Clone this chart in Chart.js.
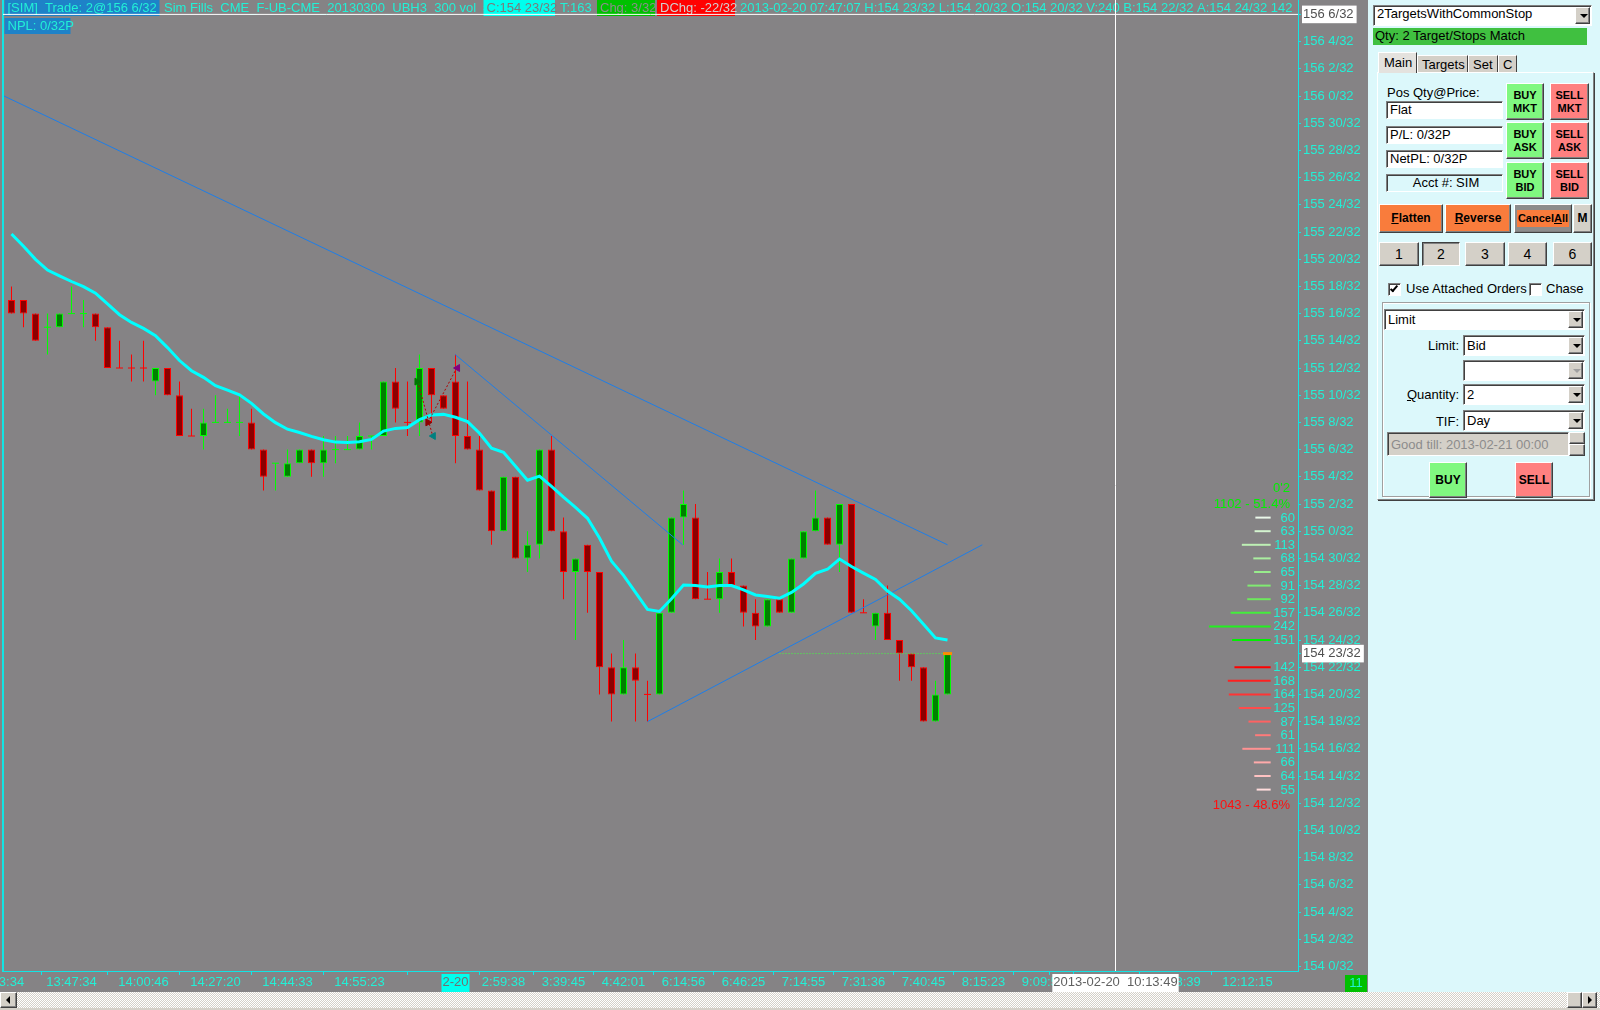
<!DOCTYPE html>
<html><head><meta charset="utf-8">
<script src="https://cdn.jsdelivr.net/npm/chart.js@4.4.1/dist/chart.umd.min.js"></script>
<style>
html,body{margin:0;padding:0;width:1600px;height:1010px;overflow:hidden;background:#dcf8fb;font-family:'Liberation Sans',Arial,sans-serif;font-size:13px;color:#000;}
#chartBox{position:absolute;left:0;top:0;width:1368px;height:992px;background:#858385;}
.a{position:absolute;box-sizing:border-box;white-space:nowrap;}
.sunken{background:#fff;border-top:1px solid #808080;border-left:1px solid #808080;border-bottom:1px solid #fff;border-right:1px solid #fff;box-shadow:inset 1px 1px 0 #404040;}
.raised{background:#d4d0c8;border-top:1px solid #fff;border-left:1px solid #fff;border-right:1px solid #404040;border-bottom:1px solid #404040;box-shadow:inset -1px -1px 0 #808080;}
.pressed{background:#d4d0c8;border-top:1px solid #404040;border-left:1px solid #404040;border-right:1px solid #fff;border-bottom:1px solid #fff;box-shadow:inset 1px 1px 0 #808080;}
.txt{padding-left:3px;line-height:15px;}
.btn{display:flex;align-items:center;justify-content:center;text-align:center;font-weight:bold;font-size:11px;line-height:13px;}
.buy{background:#80f880;}
.sell{background:#ff8080;}
.orange{background:#f97c3c;}
.arrow{position:absolute;right:1px;top:1px;bottom:1px;width:15px;}
.arrow::after{content:'';position:absolute;left:4px;top:50%;margin-top:-2px;border-left:4px solid transparent;border-right:4px solid transparent;border-top:4px solid #000;}
.arrow.dis::after{border-top-color:#a0a0a0;}
.lbl{text-align:right;}
.chk{width:13px;height:13px;}
</style></head><body>
<div id="chartBox"><canvas id="c"></canvas></div>

<!-- order panel -->
<div class="a sunken txt" style="left:1373px;top:5px;width:219px;height:21px;">2TargetsWithCommonStop<div class="a raised arrow"></div></div>
<div class="a txt" style="left:1373px;top:28px;width:214px;height:17px;background:#40c040;padding-left:2px;">Qty: 2 Target/Stops Match</div>

<div class="a" style="left:1377px;top:72px;width:217px;height:428px;border-top:1px solid #fff;border-left:1px solid #fff;border-right:1px solid #808080;border-bottom:1px solid #808080;box-shadow:1px 1px 0 #404040;"></div>
<div class="a raised" style="left:1378px;top:52px;width:39px;height:21px;background:#e4e2de;border-bottom:none;box-shadow:none;padding:2px 0 0 5px;">Main</div>
<div class="a raised" style="left:1417px;top:55px;width:51px;height:17px;border-bottom:none;box-shadow:none;padding:1px 0 0 4px;">Targets</div>
<div class="a raised" style="left:1468px;top:55px;width:30px;height:17px;border-bottom:none;box-shadow:none;padding:1px 0 0 4px;">Set</div>
<div class="a raised" style="left:1498px;top:55px;width:19px;height:17px;border-bottom:none;box-shadow:none;padding:1px 0 0 4px;">C</div>

<div class="a" style="left:1387px;top:85px;">Pos Qty@Price:</div>
<div class="a sunken txt" style="left:1386px;top:101px;width:117px;height:18px;">Flat</div>
<div class="a sunken txt" style="left:1386px;top:126px;width:117px;height:18px;">P/L: 0/32P</div>
<div class="a sunken txt" style="left:1386px;top:150px;width:117px;height:18px;">NetPL: 0/32P</div>
<div class="a sunken txt" style="left:1386px;top:174px;width:117px;height:18px;background:#dcf8fb;text-align:center;">Acct #: SIM</div>

<div class="a raised btn buy" style="left:1506px;top:83px;width:38px;height:37px;">BUY<br>MKT</div>
<div class="a raised btn buy" style="left:1506px;top:122px;width:38px;height:37px;">BUY<br>ASK</div>
<div class="a raised btn buy" style="left:1506px;top:162px;width:38px;height:37px;">BUY<br>BID</div>
<div class="a raised btn sell" style="left:1550px;top:83px;width:39px;height:37px;">SELL<br>MKT</div>
<div class="a raised btn sell" style="left:1550px;top:122px;width:39px;height:37px;">SELL<br>ASK</div>
<div class="a raised btn sell" style="left:1550px;top:162px;width:39px;height:37px;">SELL<br>BID</div>

<div class="a raised btn orange" style="left:1379px;top:204px;width:64px;height:29px;font-size:12px;"><span><u>F</u>latten</span></div>
<div class="a raised btn orange" style="left:1445px;top:204px;width:66px;height:29px;font-size:12px;"><span><u>R</u>everse</span></div>
<div class="a raised btn" style="left:1514px;top:204px;width:58px;height:29px;background:#8c8c8c;"><span style="background:#f97c3c;padding:2px 1px;"><span>Cancel<u>A</u>ll</span></span></div>
<div class="a raised btn" style="left:1573px;top:204px;width:19px;height:29px;font-size:12px;">M</div>

<div class="a raised btn" style="left:1379px;top:242px;width:40px;height:24px;font-weight:normal;font-size:14px;">1</div>
<div class="a pressed btn" style="left:1422px;top:242px;width:38px;height:24px;font-weight:normal;font-size:14px;">2</div>
<div class="a raised btn" style="left:1465px;top:242px;width:40px;height:24px;font-weight:normal;font-size:14px;">3</div>
<div class="a raised btn" style="left:1508px;top:242px;width:39px;height:24px;font-weight:normal;font-size:14px;">4</div>
<div class="a raised btn" style="left:1553px;top:242px;width:39px;height:24px;font-weight:normal;font-size:14px;">6</div>

<div class="a sunken chk" style="left:1388px;top:283px;"><div class="a" style="left:3px;top:0px;width:4px;height:8px;border-right:2px solid #000;border-bottom:2px solid #000;transform:rotate(40deg);"></div></div>
<div class="a" style="left:1406px;top:281px;">Use Attached Orders</div>
<div class="a sunken chk" style="left:1529px;top:283px;"></div>
<div class="a" style="left:1546px;top:281px;">Chase</div>

<div class="a" style="left:1382px;top:302px;width:208px;height:195px;border:1px solid #a0a0a0;box-shadow:1px 1px 0 #fff, inset 1px 1px 0 #fff;"></div>
<div class="a sunken txt" style="left:1384px;top:309px;width:201px;height:21px;padding-top:2px;">Limit<div class="a raised arrow"></div></div>
<div class="a lbl" style="left:1400px;top:338px;width:59px;">Limit:</div>
<div class="a sunken txt" style="left:1463px;top:335px;width:122px;height:21px;padding-top:2px;">Bid<div class="a raised arrow"></div></div>
<div class="a sunken txt" style="left:1463px;top:360px;width:122px;height:21px;"><div class="a raised arrow dis"></div></div>
<div class="a lbl" style="left:1400px;top:387px;width:59px;"><u>Q</u>uantity:</div>
<div class="a sunken txt" style="left:1463px;top:384px;width:122px;height:21px;padding-top:2px;">2<div class="a raised arrow"></div></div>
<div class="a lbl" style="left:1400px;top:414px;width:59px;">TIF:</div>
<div class="a sunken txt" style="left:1463px;top:410px;width:122px;height:21px;padding-top:2px;">Day<div class="a raised arrow"></div></div>
<div class="a sunken txt" style="left:1387px;top:432px;width:182px;height:24px;background:#d4d0c8;color:#8c8c8c;padding-top:4px;">Good till: 2013-02-21 00:00</div>
<div class="a raised" style="left:1569px;top:432px;width:16px;height:12px;"></div>
<div class="a raised" style="left:1569px;top:444px;width:16px;height:12px;"></div>
<div class="a raised btn buy" style="left:1429px;top:462px;width:38px;height:36px;font-size:12px;">BUY</div>
<div class="a raised btn sell" style="left:1515px;top:462px;width:38px;height:36px;font-size:12px;">SELL</div>

<!-- scrollbar -->
<div class="a" style="left:0;top:992px;width:1600px;height:18px;background:repeating-conic-gradient(#d4d0c8 0 25%,#ffffff 0 50%) 0 0/2px 2px;border-bottom:2px solid #d4d0c8;"></div>
<div class="a raised" style="left:0;top:992px;width:17px;height:16px;"><div class="a" style="left:5px;top:3px;border-top:4px solid transparent;border-bottom:4px solid transparent;border-right:4px solid #000;"></div></div>
<div class="a raised" style="left:1567px;top:992px;width:15px;height:16px;"></div>
<div class="a raised" style="left:1582px;top:992px;width:15px;height:16px;"><div class="a" style="left:5px;top:3px;border-top:4px solid transparent;border-bottom:4px solid transparent;border-left:4px solid #000;"></div></div>

<script>
// ---------- data (prices in 32nds above the 154 handle) ----------
const HANDLE = 154;
const candleOpen  = [49,49,48,47,47,48,48,48,47,44,44,44,43,44,42,39,39,40,40,40,40,38,37,36,37,38,37,38,38,38,39,39,43,40,40,44,42,43,39,38,35,32,36,30,31,38,32,29,31,29,22,20,22,20,20,26,33,33,27,27,29,28,26,25,27,26,30,32,33,31,34,26,25,26,24,23,22,18,20];
const candleHigh  = [50,49,48,48,48,50,49,48,47,46,45,46,44,44,43,41,41,42,41,42,41,38,37,38,38,38,39,39,39,40,39,43,44,43,45,44,42,45,43,39,35,36,36,32,38,39,33,30,31,29,23,24,23,21,26,33,35,34,29,30,30,28,27,27,27,30,32,35,33,34,34,27,26,28,24,23,22,21,23];
const candleLow   = [48,47,46,45,47,48,47,46,44,44,43,43,42,42,39,39,38,40,40,39,38,35,35,36,37,36,36,37,38,38,38,39,40,39,39,40,41,37,38,35,31,32,30,29,30,32,27,24,26,20,18,20,18,18,20,26,31,27,27,26,28,25,24,25,26,26,30,32,31,29,26,26,24,24,21,21,18,18,20];
const candleClose = [48,48,46,47,48,48,48,47,44,44,44,44,44,42,39,39,40,40,40,40,38,36,37,37,38,37,38,38,38,39,39,43,41,40,44,42,41,39,38,35,32,36,30,31,38,32,29,30,29,22,20,22,21,20,26,33,34,27,27,29,28,26,25,27,26,30,32,33,31,34,26,26,26,24,23,22,18,20,23];
const greenDoji = [3,5,6,17,18,19,22,27,28,30];
const maValues = [53.85,52.95,51.99,51.2,50.78,50.36,49.98,49.5,48.72,47.92,47.35,46.91,46.38,45.5,44.55,43.8,43.31,42.7,42.37,42.03,41.4,40.62,39.98,39.5,39.26,38.97,38.72,38.55,38.53,38.58,38.75,39.36,39.56,39.62,40.2,40.55,40.59,40.38,40.06,39.2,38.1,37.8,36.77,35.75,36.05,35.3,34.5,33.75,32.95,31.5,29.8,28.75,27.5,26.25,26.1,27.04,28.05,28.0,27.9,28.0,28.0,27.68,27.31,27.2,27.07,27.5,28.12,28.9,29.2,29.95,29.4,28.92,28.45,27.6,27.0,26.15,25.16,24.15,24.0];
const timeTickIdx    = [0,5,11,17,23,29,37,41,46,51,56,61,66,71,76,81,86,91,97,103,92];
const timeTickLabels = ['3:34','13:47:34','14:00:46','14:27:20','14:44:33','14:55:23','2-20','2:59:38','3:39:45','4:42:01','6:14:56','6:46:25','7:14:55','7:31:36','7:40:45','8:15:23','9:09:52','10:02:27','10:58:39','12:12:15','2013-02-20  10:13:49'];
const priceTickValues = [0,2,4,6,8,10,12,14,16,18,20,22,24,26,28,30,32,34,36,38,40,42,44,46,48,50,52,54,56,58,60,62,64,66,68,70,23];
const buyPrices  = [33,32,31,30,29,28,27,26,25,24];
const buyVolumes = [60,63,113,68,65,91,92,157,242,151];
const sellPrices  = [22,21,20,19,18,17,16,15,14,13];
const sellVolumes = [142,168,164,125,87,61,111,66,64,55];
const trendLines = [[[-0.62,64],[78,31]],[[36.96,45],[55.93,31]],[[53,18],[80.9,31]]];
const tradeEntries = [{x:33.79,y:43},{x:34.7,y:40}];
const tradeExits   = [{x:35.15,y:39},{x:37.17,y:44}];
const tradeLinks = [[[33.85,43],[35.1,39]],[[34.7,40],[37.1,44]]];
const lastPrice = 23, lastPriceFrom = 64, lastIdx = 78;
const crossIdx = 92, crossPrice = 70;

// ---------- styles ----------
const FONT = "'Liberation Sans', Arial, sans-serif";
const CYAN = '#22f0d6';
const AXIS = '#12e4e4';
const UP_FILL='#008000', UP_LINE='#00ff00', DN_FILL='#8b0000', DN_LINE='#ff0000';
const buyColors  = ['#eaf8ea','#d4f4d0','#bdf0b4','#aaeea0','#98ec8c','#80ea72','#6ee85e','#44ee3c','#22f020','#00f000'];
const sellColors = ['#ff0000','#ff2020','#ff3434','#ff4c4c','#ff6262','#ff7a7a','#ff9292','#ffaaaa','#ffc2c2','#ffdcdc'];
const X_MIN = -0.7083, X_MAX = 107.2083;
const Y_MIN = -0.338, Y_MAX = 71.059;
const PROFILE_RIGHT = 104.93, PROFILE_SCALE = 0.02125;

Chart.defaults.font.family = FONT;
Chart.defaults.font.size = 13;

const idx = candleOpen.map((_, i) => i);
const isUp = i => candleClose[i] > candleOpen[i] || (candleClose[i] === candleOpen[i] && greenDoji.includes(i));
const bodyIdx = idx.filter(i => candleOpen[i] !== candleClose[i]);
const dojiIdx = idx.filter(i => candleOpen[i] === candleClose[i]);
const fmtPrice = v => (HANDLE + Math.floor(v / 32)) + ' ' + (((v % 32) + 32) % 32) + '/32';

const datasets = [];
datasets.push({type:'line', order:20, data:[{x:crossIdx,y:Y_MIN},{x:crossIdx,y:Y_MAX}], borderColor:'#ffffff', borderWidth:1, pointRadius:0});
datasets.push({type:'line', order:20, data:[{x:X_MIN,y:crossPrice},{x:X_MAX,y:crossPrice}], borderColor:'#ffffff', borderWidth:1, pointRadius:0});
buyPrices.forEach((p, k) => datasets.push({type:'line', order:15, data:[{x:PROFILE_RIGHT - buyVolumes[k]*PROFILE_SCALE, y:p},{x:PROFILE_RIGHT, y:p}], borderColor:buyColors[k], borderWidth:2, pointRadius:0, borderCapStyle:'butt'}));
sellPrices.forEach((p, k) => datasets.push({type:'line', order:15, data:[{x:PROFILE_RIGHT - sellVolumes[k]*PROFILE_SCALE, y:p},{x:PROFILE_RIGHT, y:p}], borderColor:sellColors[k], borderWidth:2, pointRadius:0, borderCapStyle:'butt'}));
datasets.push({type:'bar', order:12, grouped:false, barThickness:1, inflateAmount:0, borderWidth:0,
  data: idx.map(i => ({x:i, y:[candleLow[i], candleHigh[i]]})),
  backgroundColor: idx.map(i => isUp(i) ? UP_LINE : DN_LINE)});
datasets.push({type:'bar', order:11, grouped:false, barThickness:7, inflateAmount:0, borderWidth:1, borderSkipped:false,
  data: bodyIdx.map(i => ({x:i, y:[candleOpen[i], candleClose[i]]})),
  backgroundColor: bodyIdx.map(i => isUp(i) ? UP_FILL : DN_FILL),
  borderColor: bodyIdx.map(i => isUp(i) ? UP_LINE : DN_LINE)});
datasets.push({type:'scatter', order:10, data: dojiIdx.map(i => ({x:i, y:candleClose[i]})),
  pointStyle:'line', pointRadius:3.5, pointBorderWidth:1,
  pointBorderColor: dojiIdx.map(i => isUp(i) ? UP_LINE : DN_LINE)});
datasets.push({type:'line', order:9, data:[{x:lastPriceFrom,y:lastPrice},{x:lastIdx,y:lastPrice}], borderColor:'#40ff40', borderWidth:1, borderDash:[1,2], pointRadius:0});
trendLines.forEach(t => datasets.push({type:'line', order:4, data:t.map(p => ({x:p[0], y:p[1]})), borderColor:'#1e7ee8', borderWidth:1, pointRadius:0}));
datasets.push({type:'line', order:3, data: maValues.map((v, i) => ({x:i, y:v})), borderColor:'#00ffff', borderWidth:3, pointRadius:0, tension:0});
tradeLinks.forEach(t => datasets.push({type:'line', order:2, data:t.map(p => ({x:p[0], y:p[1]})), borderColor:'#b00000', borderWidth:1, borderDash:[2,2], pointRadius:0}));
datasets.push({type:'scatter', order:1, data: tradeEntries, pointStyle:'triangle', rotation:90, pointRadius:4,
  pointBackgroundColor:['#007800','#900000'], pointBorderColor:['#007800','#900000'], pointBorderWidth:1});
datasets.push({type:'scatter', order:1, data: tradeExits, pointStyle:'triangle', rotation:-90, pointRadius:4,
  pointBackgroundColor:['#008080','#800080'], pointBorderColor:['#008080','#800080'], pointBorderWidth:1});
datasets.push({type:'scatter', order:1, data:[{x:lastIdx, y:lastPrice}], pointStyle:'line', pointRadius:4.5, pointBorderWidth:3, pointBorderColor:'#ff8c00'});

const tickLabelMap = {};
timeTickIdx.forEach((v, k) => tickLabelMap[v] = timeTickLabels[k]);

const overlay = {
  id:'overlay',
  beforeDatasetsDraw(chart) {
    const ctx = chart.ctx, a = chart.chartArea;
    ctx.save();
    ctx.font = '13px ' + FONT;
    ctx.textBaseline = 'middle';
    ctx.beginPath(); ctx.rect(a.left, 0, a.right - a.left, 40); ctx.clip();
    const segs = [
      {x:4.5, w:155, bg:'#1e82c8', fg:CYAN, t:'[SIM]  Trade: 2@156 6/32'},
      {x:161, fg:CYAN, t:'Sim Fills  CME_F-UB-CME_20130300_UBH3_300 vol  #4'},
      {x:483.5, w:71.5, bg:'#00ffee', fg:'#7a7a7a', t:'C:' + fmtPrice(candleClose[lastIdx])},
      {x:557, fg:CYAN, t:'T:163'},
      {x:597, w:58, bg:'#00c000', fg:'#8c8c8c', t:'Chg: 3/32'},
      {x:657, w:78, bg:'#ff0000', fg:'#d0d0d0', t:'DChg: -22/32'},
      {x:737, fg:CYAN, t:'2013-02-20 07:47:07 H:154 23/32 L:154 20/32 O:154 20/32 V:240 B:154 22/32 A:154 24/32 142'}
    ];
    segs.forEach(s => {
      if (s.bg) { ctx.fillStyle = s.bg; ctx.fillRect(s.x, 0, s.w, 16); }
      ctx.fillStyle = s.fg; ctx.textAlign = 'left';
      ctx.fillText(s.t, s.x + 3, 8.5);
    });
    ctx.fillStyle = '#1e82c8'; ctx.fillRect(4.5, 18, 66, 16);
    ctx.fillStyle = CYAN; ctx.fillText('NPL: 0/32P', 7.5, 26.5);
    ctx.restore();
  },
  afterDatasetsDraw(chart) {
    const ctx = chart.ctx, ys = chart.scales.y, a = chart.chartArea;
    ctx.save();
    ctx.font = '13px ' + FONT;
    ctx.textBaseline = 'middle';
    ctx.textAlign = 'right';
    ctx.fillStyle = CYAN;
    const xr = a.right - 3;
    buyPrices.forEach((p, k) => ctx.fillText(String(buyVolumes[k]), xr, ys.getPixelForValue(p) + 0.5));
    sellPrices.forEach((p, k) => ctx.fillText(String(sellVolumes[k]), xr, ys.getPixelForValue(p) + 0.5));
    const bt = buyVolumes.reduce((s, v) => s + v, 0), st = sellVolumes.reduce((s, v) => s + v, 0);
    ctx.fillStyle = '#00f000';
    ctx.fillText("0'2", xr - 5, ys.getPixelForValue(35) - 1.5);
    ctx.fillText(bt + ' - ' + (100 * bt / (bt + st)).toFixed(1) + '%', xr - 5, ys.getPixelForValue(34) + 0.5);
    ctx.fillStyle = '#ff1010';
    ctx.fillText(st + ' - ' + (100 * st / (bt + st)).toFixed(1) + '%', xr - 5, ys.getPixelForValue(12) + 2);
    ctx.restore();
  },
  afterDraw(chart) {
    const ctx = chart.ctx;
    ctx.save();
    ctx.fillStyle = '#00c000'; ctx.fillRect(1345, 975, 22, 17);
    ctx.font = '13px ' + FONT; ctx.fillStyle = CYAN; ctx.textAlign = 'center'; ctx.textBaseline = 'middle';
    ctx.fillText('11', 1356, 983.5);
    ctx.restore();
  }
};

new Chart(document.getElementById('c'), {
  type:'bar',
  data:{datasets},
  plugins:[overlay],
  options:{
    responsive:true, maintainAspectRatio:false, animation:false, devicePixelRatio:1, events:[],
    layout:{padding:0, autoPadding:false},
    plugins:{legend:{display:false}, tooltip:{enabled:false}},
    scales:{
      x:{type:'linear', position:'bottom', min:X_MIN, max:X_MAX, offset:false,
        grid:{drawOnChartArea:false, drawTicks:true, tickLength:4, lineWidth:1,
          color: c => (c.tick && c.tick.value === crossIdx) ? 'rgba(0,0,0,0)' : AXIS},
        border:{display:true, color:AXIS, width:1},
        ticks:{autoSkip:false, maxRotation:0, minRotation:0, padding:0, font:{size:13},
          color: c => (c.tick && c.tick.value === 37) ? '#707070' : (c.tick && c.tick.value === crossIdx ? '#606060' : CYAN),
          showLabelBackdrop: c => !!c.tick && (c.tick.value === 37 || c.tick.value === crossIdx),
          backdropColor: c => (c.tick && c.tick.value === 37) ? '#00ffee' : '#ffffff',
          backdropPadding:{top:1, bottom:2, left:1, right:1},
          callback: v => tickLabelMap[v] !== undefined ? tickLabelMap[v] : ''},
        afterBuildTicks: s => { s.ticks = timeTickIdx.map(v => ({value:v})); },
        afterFit: s => { s.height = 21; s.paddingLeft = 0; s.paddingRight = 0; }
      },
      y:{type:'linear', position:'right', min:Y_MIN, max:Y_MAX,
        grid:{drawOnChartArea:false, drawTicks:true, tickLength:3, color:AXIS},
        border:{display:true, color:AXIS, width:1},
        ticks:{padding:2, font:{size:13},
          color: c => (c.tick && (c.tick.value === lastPrice || c.tick.value === crossPrice)) ? '#505050' : CYAN,
          showLabelBackdrop: c => !!c.tick && (c.tick.value === lastPrice || c.tick.value === crossPrice),
          backdropColor:'#ffffff', backdropPadding:{top:1, bottom:1, left:1, right:3},
          callback: v => fmtPrice(v)},
        afterBuildTicks: s => { s.ticks = priceTickValues.map(v => ({value:v})); },
        afterFit: s => { s.width = 70; s.paddingTop = 0; s.paddingBottom = 0; }
      },
      yl:{type:'linear', position:'left', min:Y_MIN, max:Y_MAX,
        grid:{display:false}, ticks:{display:false},
        border:{display:true, color:AXIS, width:2},
        afterFit: s => { s.width = 3; s.paddingTop = 0; s.paddingBottom = 0; }
      }
    }
  }
});
</script>
</body></html>
